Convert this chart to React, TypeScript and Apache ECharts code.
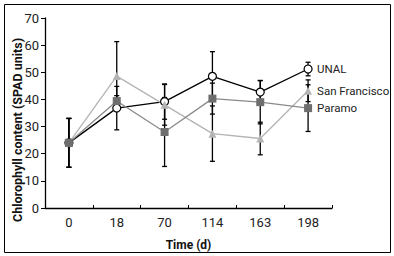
import React, { useEffect, useRef } from "react";
import * as echarts from "echarts";

const categories = ["0", "18", "70", "114", "163", "198"];
const unal = [24, 36.8, 39.2, 48.5, 42.7, 51.2];
const unalErr = [9, 8, 6.5, 9.1, 4.2, 2.5];
const sanFrancisco = [24, 48.6, 38, 27.4, 25.6, 43.2];
const sanFranciscoErr = [9, 12.7, 7.5, 10.2, 6, 4];
const paramo = [24, 39.4, 28, 40.3, 39, 36.8];
const paramoErr = [9, 2, 12.7, 5.7, 8, 8.6];
const yTicks = { min: 0, max: 70, interval: 10 };

const FONT = "Roboto, 'Liberation Sans', sans-serif";

function errData(vals: number[], errs: number[]) {
  return vals.map((v, i) => [i, v - errs[i], v + errs[i]]);
}

function errSeries(vals: number[], errs: number[]) {
  return {
    type: "custom",
    z: 1,
    silent: true,
    data: errData(vals, errs),
    renderItem: (params: any, api: any) => {
      const x = api.value(0);
      const lo = api.coord([x, api.value(1)]);
      const hi = api.coord([x, api.value(2)]);
      const w = 2.5;
      const style = { stroke: "#000", lineWidth: 1.3 };
      return {
        type: "group",
        children: [
          { type: "line", shape: { x1: lo[0], y1: lo[1], x2: hi[0], y2: hi[1] }, style },
          { type: "line", shape: { x1: lo[0] - w, y1: lo[1], x2: lo[0] + w, y2: lo[1] }, style },
          { type: "line", shape: { x1: hi[0] - w, y1: hi[1], x2: hi[0] + w, y2: hi[1] }, style },
        ],
      };
    },
  };
}

function lineSeries(name: string, data: number[], lineColor: string, symbol: string, symbolSize: number, fill: string, border: string) {
  return {
    name,
    type: "line",
    z: 3,
    data,
    symbol,
    symbolSize,
    showAllSymbol: true,
    lineStyle: { color: lineColor, width: 1.3 },
    itemStyle: { color: fill, borderColor: border, borderWidth: symbol === "circle" ? 1.2 : 0 },
    endLabel: {
      show: true,
      formatter: "{a}",
      distance: 9,
      fontFamily: FONT,
      fontSize: 11.5,
      color: "#222",
    },
  };
}

export default function App() {
  const ref = useRef<HTMLDivElement>(null);
  useEffect(() => {
    const chart = echarts.init(ref.current!, null, { renderer: "svg" });
    chart.setOption({
      animation: false,
      backgroundColor: "#fff",
      textStyle: { fontFamily: FONT },
      grid: { left: 45, right: 62, top: 18, bottom: 47 },
      xAxis: {
        type: "category",
        data: categories,
        boundaryGap: true,
        name: "Time (d)",
        nameLocation: "middle",
        nameGap: 31,
        nameTextStyle: { fontFamily: FONT, fontSize: 12, fontWeight: "bold", color: "#111" },
        axisLine: { lineStyle: { color: "#000", width: 1.3 } },
        axisTick: { show: true, inside: true, length: 3, lineStyle: { color: "#000" } },
        axisLabel: { fontFamily: FONT, fontSize: 13, color: "#222", margin: 8 },
        splitLine: { show: false },
      },
      yAxis: {
        type: "value",
        min: yTicks.min,
        max: yTicks.max,
        interval: yTicks.interval,
        axisLine: { show: true, lineStyle: { color: "#000", width: 1.3 } },
        axisTick: { show: true, inside: false, length: 4, lineStyle: { color: "#000" } },
        axisLabel: { fontFamily: FONT, fontSize: 13, color: "#222", margin: 6 },
        splitLine: { show: false },
      },
      graphic: [
        {
          type: "rect",
          shape: { x: 4.5, y: 4.5, width: 386, height: 248 },
          style: { fill: "none", stroke: "#000", lineWidth: 1 },
          silent: true,
        },
        {
          type: "text",
          x: 17,
          y: 130,
          rotation: Math.PI / 2,
          style: {
            text: "Chlorophyll content (SPAD units)",
            fontFamily: FONT,
            fontSize: 12.5,
            fontWeight: "bold",
            fill: "#111",
            align: "center",
            verticalAlign: "middle",
          },
        },
      ],
      series: [
        errSeries(unal, unalErr),
        errSeries(sanFrancisco, sanFranciscoErr),
        errSeries(paramo, paramoErr),
        lineSeries("UNAL", unal, "#000", "circle", 8, "#fff", "#000"),
        lineSeries("San Francisco", sanFrancisco, "#b4b4b4", "triangle", 8, "#b4b4b4", "#b4b4b4"),
        lineSeries("Paramo", paramo, "#8a8a8a", "rect", 8, "#6e6e6e", "#6e6e6e"),
      ],
    });
    return () => chart.dispose();
  }, []);
  return <div ref={ref} style={{ position: "fixed", left: 0, top: 0, width: 394, height: 256 }} />;
}
